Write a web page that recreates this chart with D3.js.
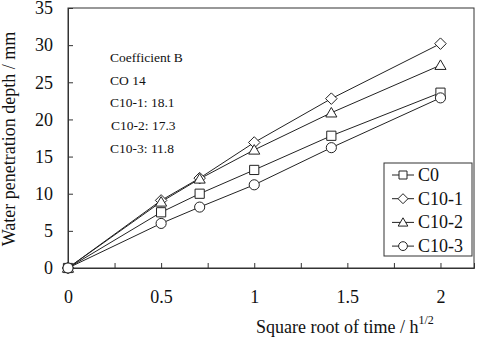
<!DOCTYPE html>
<html>
<head>
<meta charset="utf-8">
<script src="https://cdn.jsdelivr.net/npm/d3@7"></script>
<style>
  body { margin: 0; background: #fff; }
  svg text { font-family: "Liberation Serif", "Times New Roman", Times, serif !important; }
</style>
</head>
<body>
<div id="chart"></div>
<script>
// x values: sqrt of time (0, 0.25, 0.5, 1, 2, 4 h)
var sqrtTime = [0, 0.5, 0.707, 1, 1.414, 2];
var c0   = [0, 7.5, 10.0, 13.2, 17.8, 23.6];
var c101 = [0, 9.1, 12.1, 16.9, 22.8, 30.2];
var c102 = [0, 8.9, 12.0, 15.9, 20.9, 27.3];
var c103 = [0, 6.0, 8.2, 11.2, 16.2, 22.9];
var seriesNames = ["C0", "C10-1", "C10-2", "C10-3"];
var seriesShapes = ["square", "diamond", "triangle", "circle"];
var xTicks = [0, 0.5, 1, 1.5, 2];
var xMinorTicks = [0.25, 0.75, 1.25, 1.75];
var yTicks = [0, 5, 10, 15, 20, 25, 30, 35];
var noteLines = ["Coefficient B", "CO 14", "C10-1: 18.1", "C10-2: 17.3", "C10-3: 11.8"];

var W = 483, H = 341;
var margin = {top: 8, right: 9, bottom: 73, left: 68};

var svg = d3.select("#chart").append("svg")
    .attr("width", W)
    .attr("height", H);

var x = d3.scaleLinear().domain([0, 2.18]).range([margin.left, W - margin.right]);
var y = d3.scaleLinear().domain([0, 35]).range([H - margin.bottom, margin.top]);

// marker shapes
function shapePath(shape, r) {
    if (shape == "square") {
        return "M" + (-r) + "," + (-r) + "H" + r + "V" + r + "H" + (-r) + "Z";
    } else if (shape == "diamond") {
        var d = r * 1.25;
        return "M0," + (-d) + "L" + d + ",0L0," + d + "L" + (-d) + ",0Z";
    } else if (shape == "triangle") {
        var t = r * 1.15;
        return "M0," + (-t) + "L" + (t * 1.05) + "," + (t * 0.8) + "L" + (-t * 1.05) + "," + (t * 0.8) + "Z";
    } else {
        return d3.arc()({innerRadius: 0, outerRadius: r * 1.1, startAngle: 0, endAngle: 2 * Math.PI});
    }
}

// frame
svg.append("rect")
    .attr("x", x(0)).attr("y", y(35))
    .attr("width", x(2.18) - x(0)).attr("height", y(0) - y(35))
    .attr("fill", "none").attr("stroke", "#333").attr("stroke-width", 1);

// axes with inward ticks
svg.append("g")
    .attr("transform", "translate(0," + y(0) + ")")
    .call(d3.axisBottom(x).tickValues(xTicks).tickSize(-5).tickPadding(22).tickFormat(d3.format("")));
svg.append("g")
    .attr("transform", "translate(0," + y(0) + ")")
    .call(d3.axisBottom(x).tickValues(xMinorTicks).tickSize(-5).tickFormat(""))
    .select(".domain").remove();
svg.append("g")
    .attr("transform", "translate(" + x(0) + ",0)")
    .call(d3.axisLeft(y).tickValues(yTicks).tickSize(-5).tickPadding(15));

svg.selectAll(".tick line").attr("stroke", "#333");
svg.selectAll(".domain").attr("stroke", "#333");
svg.selectAll(".tick text")
    .attr("font-size", 18)
    .attr("fill", "#111");

// axis titles
var xt = svg.append("text")
    .attr("x", 256).attr("y", 333)
    .attr("font-size", 18).attr("fill", "#111")
    .text("Square root of time / h");
xt.append("tspan")
    .attr("dy", -9).attr("font-size", 12)
    .text("1/2");

svg.append("text")
    .attr("transform", "translate(15," + ((y(0) + y(35)) / 2 + 1) + ") rotate(-90)")
    .attr("text-anchor", "middle")
    .attr("font-size", 18).attr("fill", "#111")
    .text("Water penetration depth / mm");

// data lines + markers
var allSeries = [c0, c101, c102, c103];
var line = d3.line()
    .x(function(d, i) { return x(sqrtTime[i]); })
    .y(function(d) { return y(d); });

for (var i = 0; i < allSeries.length; i++) {
    svg.append("path")
        .datum(allSeries[i])
        .attr("fill", "none")
        .attr("stroke", "#222")
        .attr("stroke-width", 1)
        .attr("d", line);
}
for (var i = 0; i < allSeries.length; i++) {
    var shp = seriesShapes[i];
    svg.append("g").selectAll("path")
        .data(allSeries[i])
        .enter().append("path")
        .attr("transform", function(d, j) { return "translate(" + x(sqrtTime[j]) + "," + y(d) + ")"; })
        .attr("d", shapePath(shp, 4.6))
        .attr("fill", "#fff")
        .attr("stroke", "#222")
        .attr("stroke-width", 1);
}

// coefficient note
svg.append("g").selectAll("text")
    .data(noteLines)
    .enter().append("text")
    .attr("x", function(d, i) { return i == 3 ? 111 : 110; })
    .attr("y", function(d, i) { return 62 + i * 22.7; })
    .attr("font-size", 13.5)
    .attr("fill", "#111")
    .text(function(d) { return d; });

// legend
var legend = svg.append("g");
legend.append("rect")
    .attr("x", 384).attr("y", 163)
    .attr("width", 88).attr("height", 93)
    .attr("fill", "#fff").attr("stroke", "#333").attr("stroke-width", 1);
var rows = legend.selectAll("g.row")
    .data(seriesNames)
    .enter().append("g")
    .attr("class", "row")
    .attr("transform", function(d, i) { return "translate(0," + (175 + i * 23.7) + ")"; });
rows.append("line")
    .attr("x1", 392).attr("x2", 414)
    .attr("stroke", "#222").attr("stroke-width", 1);
rows.append("path")
    .attr("transform", "translate(403,0)")
    .attr("d", function(d, i) { return shapePath(seriesShapes[i], 4); })
    .attr("fill", "#fff").attr("stroke", "#222").attr("stroke-width", 1);
rows.append("text")
    .attr("x", 418).attr("y", 6)
    .attr("font-size", 18).attr("fill", "#111")
    .text(function(d) { return d; });
</script>
</body>
</html>
